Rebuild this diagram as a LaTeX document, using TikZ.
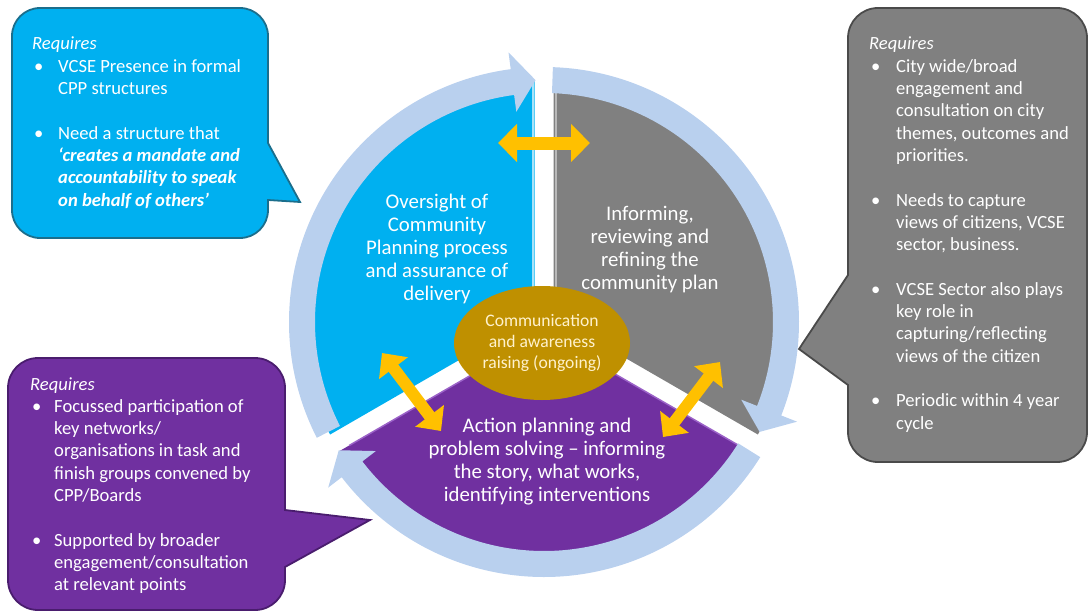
\documentclass[tikz,border=0pt]{standalone}
\usepackage{fontspec}
\setmainfont{Carlito}
\usetikzlibrary{arrows.meta,calc,shapes.geometric}
\definecolor{ringblue}{HTML}{B9D0EE}
\definecolor{skyb}{HTML}{00B0F0}
\definecolor{skydark}{HTML}{1B6E8C}
\definecolor{grayS}{HTML}{808080}
\definecolor{graydark}{HTML}{4A4A4A}
\definecolor{purp}{HTML}{7030A0}
\definecolor{purpdark}{HTML}{4A1D6E}
\definecolor{purplight}{HTML}{9B62C8}
\definecolor{gold}{HTML}{BF9000}
\definecolor{yell}{HTML}{FFC000}
\definecolor{cream}{HTML}{FFF2CC}
\newcommand{\bul}[2]{\makebox[#1][l]{\hspace{2pt}•}#2}
\begin{document}
\begin{tikzpicture}[x=1pt,y=-1pt,
  ring/.style={fill=ringblue},
  yarr/.style={draw=yell, line width=13pt, {Triangle[length=19pt,width=37pt]}-{Triangle[length=19pt,width=37pt]}},
  yarrd/.style={draw=yell, line width=12pt, {Triangle[length=19pt,width=35pt]}-{Triangle[length=19pt,width=35pt]}},
  sectext/.style={text=white, align=center, inner sep=0pt, font=\fontsize{20.8}{23}\selectfont},
  calltext/.style={text=white, align=left, anchor=north west, inner sep=0pt, font=\fontsize{18.6}{22.3}\selectfont},
  callblue/.style={fill=skyb, draw=skydark, line width=1.8pt},
  callgray/.style={fill=grayS, draw=graydark, line width=1.8pt},
  callpurp/.style={fill=purp, draw=purpdark, line width=1.8pt},
]
\useasboundingbox (0,0) rectangle (1091,615);
\coordinate (C) at (544,322);
% sectors
\fill[skyb] (534.5,316.5) -- ++(-90:236) arc[start angle=-90, end angle=-210, radius=236] -- cycle;
\fill[grayS] (553.5,316.5) -- ++(-90:236) arc[start angle=-90, end angle=30, radius=236] -- cycle;
\fill[purp] (544,333) -- ++(30:236) arc[start angle=30, end angle=150, radius=236] -- cycle;
% bevel highlights
\draw[cyan!35!white, line width=1.5pt] (533,80) -- (533,300);
\draw[gray!55!white, line width=1.5pt] (556,80) -- (556,300);
\draw[purplight, line width=1.5pt] ($(544,333)+(150:70)$) -- ($(544,333)+(150:225)$);
\draw[purplight, line width=1.5pt] ($(544,333)+(30:70)$) -- ($(544,333)+(30:225)$);
% ring arrows
\fill[ring] ($(C)+(-207:255)$) arc[start angle=-207, end angle=-97.5, radius=255] -- ($(C)+(-97.5:272)$) -- ($(C)+(-92:242)$) -- ($(C)+(-97.5:212)$) -- ($(C)+(-97.5:229)$) arc[start angle=-97.5, end angle=-207, radius=229] -- cycle;
\fill[ring] ($(C)+(-88:255)$) arc[start angle=-88, end angle=21.5, radius=255] -- ($(C)+(21.5:272)$) -- ($(C)+(27:242)$) -- ($(C)+(21.5:212)$) -- ($(C)+(21.5:229)$) arc[start angle=21.5, end angle=-88, radius=229] -- cycle;
\fill[ring] ($(C)+(32:255)$) arc[start angle=32, end angle=142.5, radius=255] -- ($(C)+(142.5:272)$) -- ($(C)+(148:242)$) -- ($(C)+(142.5:212)$) -- ($(C)+(142.5:229)$) arc[start angle=142.5, end angle=32, radius=229] -- cycle;
% yellow double arrows
\coordinate (h1) at (498,143); \coordinate (h2) at (590,143);
\coordinate (d1) at (382,353); \coordinate (d2) at (441,431);
\coordinate (e1) at (663,437); \coordinate (e2) at (720,362);
\draw[yarr] (h1) -- (h2);
\draw[yarrd] (d1) -- (d2);
\draw[yarrd] (e1) -- (e2);
% centre ellipse
\node[ellipse, fill=gold, minimum width=176pt, minimum height=114pt, inner sep=0pt, text=cream, align=center, font=\fontsize{17.6}{21}\selectfont] (comm) at (542,343) {Communication\\and awareness\\raising (ongoing)};
% sector texts
\node[sectext] (oversight) at (437,249) {Oversight of\\Community\\Planning process\\and assurance of\\delivery};
\node[sectext] (informing) at (650,250) {Informing,\\reviewing and\\refining the\\community plan};
\node[sectext] (action) at (547,462) {Action planning and\\problem solving – informing\\the story, what works,\\identifying interventions};
% callouts
\path[callblue] (40,8) -- (240,8) arc[start angle=-90, end angle=0, radius=28] -- (268,143) -- (300,202) -- (268,200) -- (268,210) arc[start angle=0, end angle=90, radius=28] -- (40,238) arc[start angle=90, end angle=180, radius=28] -- (12,36) arc[start angle=180, end angle=270, radius=28] -- cycle;
\path[callgray] (878,8) -- (1057,8) arc[start angle=-90, end angle=0, radius=30] -- (1087,432) arc[start angle=0, end angle=90, radius=30] -- (878,462) arc[start angle=90, end angle=180, radius=30] -- (848,385) -- (799,349) -- (848,275) -- (848,38) arc[start angle=180, end angle=270, radius=30] -- cycle;
\path[callpurp] (38,358) -- (255,358) arc[start angle=-90, end angle=0, radius=30] -- (285,510) -- (370,520) -- (285,567) -- (285,580) arc[start angle=0, end angle=90, radius=30] -- (38,610) arc[start angle=90, end angle=180, radius=30] -- (8,388) arc[start angle=180, end angle=270, radius=30] -- cycle;
% callout texts
\node[calltext] (reqblue) at (32,37) {\textit{Requires}\\
\bul{26pt}{VCSE Presence in formal}\\
\hspace{26pt}CPP structures\\
\mbox{}\\
\bul{26pt}{Need a structure that}\\
\hspace{26pt}\textbf{\textit{‘creates a mandate and}}\\
\hspace{26pt}\textbf{\textit{accountability to speak}}\\
\hspace{26pt}\textbf{\textit{on behalf of others’}}};
\node[calltext] (reqgray) at (869,37) {\textit{Requires}\\
\bul{27pt}{City wide/broad}\\
\hspace{27pt}engagement and\\
\hspace{27pt}consultation on city\\
\hspace{27pt}themes, outcomes and\\
\hspace{27pt}priorities.\\
\mbox{}\\
\bul{27pt}{Needs to capture}\\
\hspace{27pt}views of citizens, VCSE\\
\hspace{27pt}sector, business.\\
\mbox{}\\
\bul{27pt}{VCSE Sector also plays}\\
\hspace{27pt}key role in\\
\hspace{27pt}capturing/reflecting\\
\hspace{27pt}views of the citizen\\
\mbox{}\\
\bul{27pt}{Periodic within 4 year}\\
\hspace{27pt}cycle};
\node[calltext] (reqpurp) at (30,377) {\textit{Requires}\\
\bul{24pt}{Focussed participation of}\\
\hspace{24pt}key networks/\\
\hspace{24pt}organisations in task and\\
\hspace{24pt}finish groups convened by\\
\hspace{24pt}CPP/Boards\\
\mbox{}\\
\bul{24pt}{Supported by broader}\\
\hspace{24pt}engagement/consultation\\
\hspace{24pt}at relevant points};
\end{tikzpicture}
\end{document}
